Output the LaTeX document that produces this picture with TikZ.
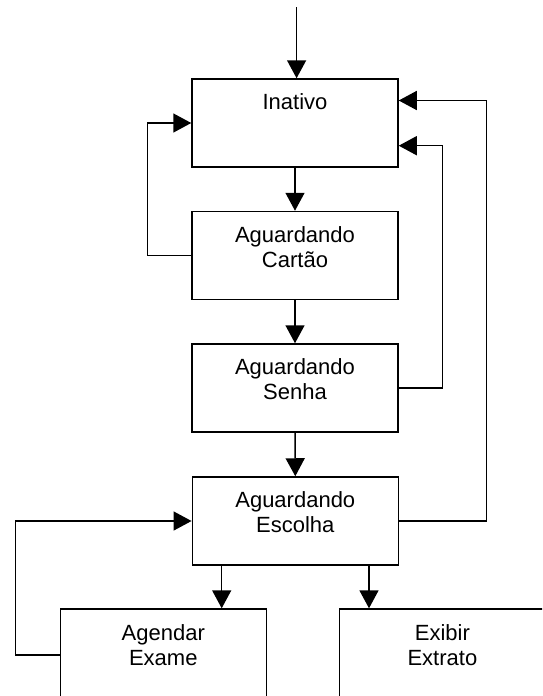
\documentclass[tikz,border=0pt]{standalone}
\usepackage{fontspec}
\setmainfont{Liberation Sans}
\usetikzlibrary{arrows.meta}
\begin{document}
\begin{tikzpicture}[x=1pt,y=-1pt,
  box/.style={draw, line width=1.5pt, minimum width=206pt, minimum height=88pt, inner sep=0pt},
  lbl/.style={font=\fontsize{22pt}{25pt}\selectfont, align=center, inner sep=0pt, anchor=north},
  conn/.style={line width=1.5pt, -{Triangle[length=18pt,width=19pt]}}]
\useasboundingbox (0,0) rectangle (542,696);
\clip (0,0) rectangle (542,696);
% boxes
\node[box] (ina) at (295,123) {};
\node[box] (car) at (295,255.5) {};
\node[box] (sen) at (295,388) {};
\node[box] (esc) at (295.3,521) {};
\node[box, minimum height=92pt, anchor=north] (age) at (163.3,608.3) {};
\node[box, minimum height=92pt, anchor=north] (exi) at (442.4,608.3) {};
% labels
\node[lbl] (inaT) at ([yshift=-15.6pt]ina.north) {Inativo};
\node[lbl] (carT) at ([yshift=-15.6pt]car.north) {Aguardando\\Cartão};
\node[lbl] (senT) at ([yshift=-15.6pt]sen.north) {Aguardando\\Senha};
\node[lbl] (escT) at ([yshift=-15.6pt]esc.north) {Aguardando\\Escolha};
\node[lbl] (ageT) at ([yshift=-15.6pt]age.north) {Agendar\\Exame};
\node[lbl] (exiT) at ([yshift=-15.6pt]exi.north) {Exibir\\Extrato};
% connectors
\coordinate (start) at (296.6,7);
\draw[conn] (start) -- (start |- ina.north);
\draw[conn] (ina.south) -- (car.north);
\draw[conn] (car.south) -- (sen.north);
\draw[conn] (sen.south) -- (esc.north);
\coordinate (ea) at ([xshift=-73.6pt]esc.south);
\coordinate (eb) at ([xshift=73.7pt]esc.south);
\draw[conn] (ea) -- (ea |- age.north);
\draw[conn] (eb) -- (eb |- exi.north);
\coordinate (lc) at (147.3,0);
\coordinate (rs) at (442.3,0);
\coordinate (rc) at (486.7,0);
\coordinate (la) at (15.7,0);
\draw[conn] (car.west) -- (car.west -| lc) |- (ina.west);
\draw[conn] (sen.east) -- (sen.east -| rs) |- ([yshift=-22.7pt]ina.east);
\draw[conn] (esc.east) -- (esc.east -| rc) |- ([yshift=22.5pt]ina.east);
\draw[conn] (age.west) -- (age.west -| la) |- (esc.west);
\end{tikzpicture}
\end{document}
